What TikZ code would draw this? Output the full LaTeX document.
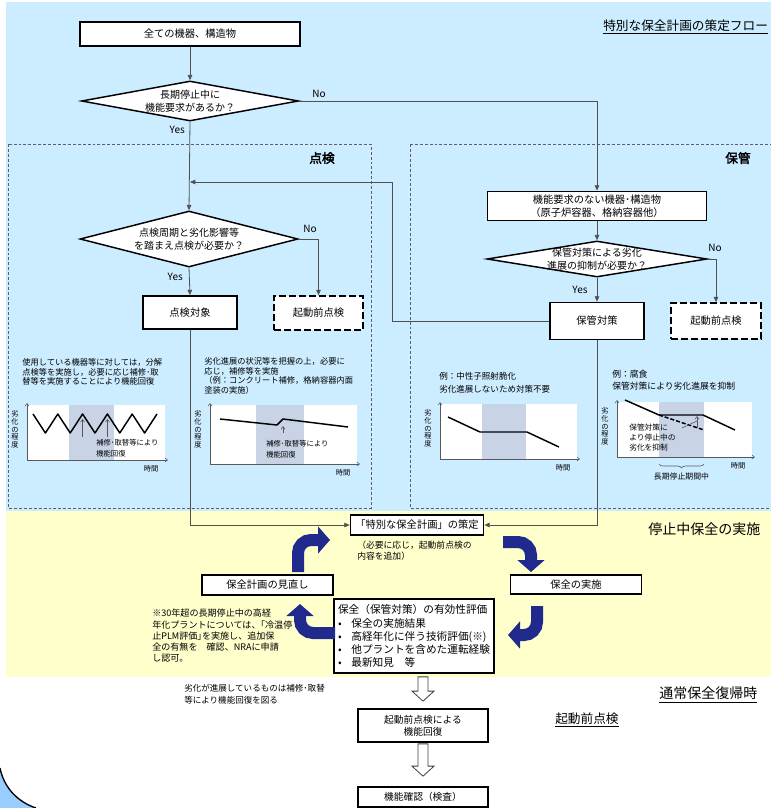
\documentclass[tikz,border=0pt]{standalone}
\usepackage{fontspec}
\setmainfont{Noto Sans CJK JP}[AutoFakeBold=2.5]
\usetikzlibrary{shapes.geometric,arrows.meta,calc,decorations.pathreplacing}

\definecolor{skyback}{RGB}{204,236,255}
\definecolor{creamback}{RGB}{255,255,204}
\definecolor{periodgray}{RGB}{200,212,230}
\definecolor{navyarrow}{RGB}{32,42,140}
\definecolor{cornerblue}{RGB}{153,204,255}
\definecolor{linegray}{RGB}{80,80,80}
\definecolor{framegray}{RGB}{95,95,105}

\newcommand\fsz[2]{\fontsize{#1}{#2}\selectfont}
% hollow block arrow between two named coordinates (top, tip)
\newcommand\hollowdown[2]{%
  \draw[hollow] ($(#1)+(-5,0)$) -- ($(#2)+(-5,-10)$) -- ($(#2)+(-11,-10)$)
    -- (#2) -- ($(#2)+(11,-10)$) -- ($(#2)+(5,-10)$) -- ($(#1)+(5,0)$) -- cycle;}

\begin{document}
\begin{tikzpicture}[
    x=0.75pt, y=-0.75pt,
    every node/.style={inner sep=0pt},
    >={Triangle[length=4pt,width=3.4pt]},
    box/.style={draw, line width=1.3pt, fill=white, align=center, font=\fsz{7.7}{9.6}},
    dbox/.style={box, dash pattern=on 5pt off 2.5pt},
    decision/.style={diamond, draw, line width=1.1pt, fill=white},
    dtext/.style={align=center, font=\fsz{7.5}{9.4}},
    flow/.style={->, draw=linegray, line width=0.6pt},
    yn/.style={font=\fsz{7.5}{9}},
    frame/.style={draw=framegray, line width=0.7pt, dash pattern=on 2.2pt off 1.5pt},
    grouplabel/.style={font=\fsz{9.5}{11}\bfseries},
    header/.style={anchor=west, font=\fsz{10.5}{12}},
    note/.style={anchor=north west, align=left},
    axis/.style={-{Straight Barb[length=2pt,width=3pt]}, draw=gray!70!black, line width=0.4pt},
    curve/.style={line width=1.1pt, line join=round},
    pointer/.style={-{Straight Barb[length=2pt,width=3pt]}, draw=gray!70!black, line width=0.45pt},
    ylab/.style={anchor=north, align=center, font=\fsz{5.4}{5.9}},
    xlab/.style={font=\fsz{5.4}{6}},
    bigarrow/.style={draw=navyarrow, line width=9pt, -{Triangle[length=9pt,width=20pt]}},
    hollow/.style={draw=black!75, line width=0.6pt, fill=white},
]

% Parameters
\def\W{771}
\def\H{808}
\useasboundingbox (0,0) rectangle (\W,\H);

% === Backgrounds ===
\fill[skyback] (6,2) rectangle (\W,511);
\fill[creamback] (6,511) rectangle (\W,677);
\fill[cornerblue] (0,768) .. controls (4,788) and (18,802) .. (36,808) -- (0,808) -- cycle;
\draw[line width=1pt] (0,768) .. controls (4,788) and (18,802) .. (36,808);

% === Group frames ===
\draw[frame] (8,144) rectangle (371,508);
\draw[frame] (410,144) rectangle (780,508);
\node[grouplabel] (tenkenlab) at (322,158) {点検};
\node[grouplabel] (hokanlab) at (738,158) {保管};

% === Headers ===
\node[header, font=\fsz{9.5}{11}] (title) at (603,27) {\underline{特別な保全計画の策定フロー}};
\node[header] (stophdr) at (648,529) {停止中保全の実施};
\node[header] (normhdr) at (659,695) {\underline{通常保全復帰時}};
\node[header, font=\fsz{9.5}{11}] (prehdr) at (555,720) {\underline{起動前点検}};

% === Decision flow ===
\node[box, minimum width=165pt, minimum height=18pt] (all) at (190,34) {全ての機器、構造物};
\node[decision, minimum width=162.75pt, minimum height=30pt] (q1) at (190,101) {};
\node[dtext] (q1t) at (q1) {長期停止中に\\機能要求があるか？};
\node[box, minimum width=164.25pt, minimum height=21.75pt] (nofn) at (597,206) {機能要求のない機器･構造物\\（原子炉容器、格納容器他）};
\node[decision, minimum width=163.5pt, minimum height=42pt] (q2) at (189,239) {};
\node[dtext] (q2t) at (q2) {点検周期と劣化影響等\\を踏まえ点検が必要か？};
\node[box, minimum width=70.5pt, minimum height=24.75pt] (target) at (190,312.5) {点検対象};
\node[dbox, minimum width=66.75pt, minimum height=25.5pt] (prechk1) at (318.5,313) {起動前点検};
\node[decision, minimum width=165pt, minimum height=27pt] (q3) at (597,259) {};
\node[dtext] (q3t) at (q3) {保管対策による劣化\\進展の抑制が必要か？};
\node[box, minimum width=70.5pt, minimum height=27.75pt] (storage) at (597,321) {保管対策};
\node[dbox, minimum width=67.5pt, minimum height=27pt] (prechk2) at (716,321) {起動前点検};

\coordinate (join) at (190,182);
\coordinate (turn) at (392,182);

\draw[flow] (all) -- (q1);
\draw[flow] (q1.east) -| (nofn.north);
\draw[flow] (q1.south) -- (q2.north);
\draw[flow] (q2.east) -| (prechk1.north);
\draw[flow] (q2.south) -- (target.north);
\draw[flow] (nofn) -- (q3);
\draw[flow] (q3.east) -| (prechk2.north);
\draw[flow] (q3.south) -- (storage.north);
\draw[flow] (storage.west) -| (turn) -- (join);

\node[yn] (no1) at (319,94) {No};
\node[yn, anchor=east] (yes1) at (185,130) {Yes};
\node[yn] (no2) at (310,229) {No};
\node[yn, anchor=east] (yes2) at (183,277) {Yes};
\node[yn] (no3) at (715,248) {No};
\node[yn] (yes3) at (580,290) {Yes};

% === Graphs ===
\foreach \gl/\gt/\gr/\gb/\sl/\sr in {27/405/165/460/69/114, 210/405/357/464/256/304,
    440/404/577/459/482/526, 617/402/752/457/659/704} {
    \fill[white] (\gl,\gt) rectangle (\gr,\gb);
    \fill[periodgray] (\sl,\gt) rectangle (\sr,\gb);
    \draw[axis] (\gl,\gb) -- (\gl,\gt-2);
    \draw[axis] (\gl,\gb) -- (\gr+3,\gb);
    \node[ylab] (ylab-\gl) at (\gl-12,\gt+5) {劣\\化\\の\\程\\度};
    \node[xlab] (xlab-\gl) at (\gr-14,\gb+9) {時間};
}

% graph 1: repeated repair
\draw[curve] (33,414) -- (45.4,433) -- (57.8,414) -- (70.2,433) -- (82.6,414) -- (95,433)
    -- (107.4,414) -- (119.8,433) -- (132.2,414) -- (144.6,433) -- (157,414);
\draw[pointer] (82.6,437) -- (82.6,419);
\draw[pointer] (107.4,437) -- (107.4,419);
\node[note, font=\fsz{5.5}{8}] (g1note) at (96,439) {補修･取替等により\\機能回復};
\node[note, font=\fsz{6.2}{7.4}] (g1text) at (22,358) {使用している機器等に対しては，分解\\点検等を実施し，必要に応じ補修･取\\替等を実施することにより機能回復};

% graph 2: repair during stop
\draw[curve] (220,419) -- (277,425) -- (283,419) -- (348,427);
\draw[pointer] (283,433) -- (283,426);
\node[note, font=\fsz{5.5}{8}] (g2note) at (266,440) {補修･取替等により\\機能回復};
\node[note, font=\fsz{6.2}{7.4}] (g2text) at (204,357) {劣化進展の状況等を把握の上，必要に\\応じ，補修等を実施\\（例：コンクリート補修，格納容器内面\\塗装の実施）};

% graph 3: no progress
\draw[curve] (448,417) -- (480,432) -- (527,432) -- (559,447);
\node[note, font=\fsz{6.4}{10}] (g3text) at (439,372) {例：中性子照射脆化\\劣化進展しないため対策不要};

% graph 4: storage measure
\draw[curve] (625,400) -- (659,415) -- (703,415) -- (735,430);
\draw[curve, dash pattern=on 3pt off 1.5pt] (659,415) -- (704,430);
\draw[pointer] (697,428) -- (697,416);
\draw[gray!70!black, line width=0.45pt] (682,428) -- (697,421);
\node[note, font=\fsz{6.6}{9}] (g4text) at (612,370) {例：腐食\\保管対策により劣化進展を抑制};
\node[note, font=\fsz{5.8}{7.5}] (g4note) at (629,424) {保管対策に\\より停止中の\\劣化を抑制};
\draw[gray!70!black, line width=0.45pt, decorate, decoration={brace, mirror, amplitude=3pt}]
    (659,464) -- (704,464);
\node[font=\fsz{5.9}{7}] (period) at (681.5,477) {長期停止期間中};

% === Maintenance cycle during shutdown ===
\node[box, minimum width=99.75pt, minimum height=15pt] (plan) at (417,525) {「特別な保全計画」の策定};
\node[note, font=\fsz{6.6}{8}] (plannote) at (357,541) {（必要に応じ，起動前点検の\\内容を追加）};
\node[box, minimum width=98.25pt, minimum height=14.25pt] (exec) at (576,584.5) {保全の実施};
\node[box, minimum width=98.25pt, minimum height=15pt] (review) at (267.5,585) {保全計画の見直し};
\node[box, align=left, minimum width=120pt, minimum height=55.5pt, font=\fsz{8}{9.8}] (eval) at (414,636)
    {保全（保管対策）の有効性評価\\
     \makebox[10pt][l]{•}保全の実施結果\\
     \makebox[10pt][l]{•}高経年化に伴う技術評価(※)\\
     \makebox[10pt][l]{•}他プラントを含めた運転経験\\
     \makebox[10pt][l]{•}最新知見　等};
\node[note, font=\fsz{6.8}{8.4}] (pltnote) at (152,609) {※30年超の長期停止中の高経\\年化プラントについては、｢冷温停\\止PLM評価｣を実施し、追加保\\全の有無を　確認、NRAに申請\\し認可。};

\draw[flow] (target.south) |- (plan.west);
\draw[flow] (storage.south) |- (plan.east);

\draw[bigarrow] (298,572) -- (298,553) to[out=90,in=180] (311,540) -- (330,540);
\draw[bigarrow] (503,542) -- (518,542) to[out=0,in=90] (531,555) -- (531,572);
\draw[bigarrow] (537,606) -- (537,622) to[out=270,in=0] (524,635) -- (508,635);
\draw[bigarrow] (335,633) -- (313,633) to[out=180,in=270] (300,620) -- (300,604);

% === Return to normal maintenance ===
\node[note, font=\fsz{6.4}{9}] (fixnote) at (184,684) {劣化が進展しているものは補修･取替\\等により機能回復を図る};
\node[box, minimum width=97.5pt, minimum height=24.75pt, font=\fsz{7.3}{8.8}] (recov) at (423,725.5) {起動前点検による\\機能回復};
\node[box, minimum width=97.5pt, minimum height=15pt, font=\fsz{7.3}{8.8}] (confirm) at (423,797) {機能確認（検査）};

\coordinate (h1s) at (recov.north |- eval.south);
\coordinate (h1e) at ($(recov.north)+(0,-7)$);
\coordinate (h2s) at (recov.south);
\coordinate (h2e) at ($(confirm.north)+(0,-10)$);
\hollowdown{$(h1s)+(0,3)$}{h1e}
\hollowdown{$(h2s)+(0,1)$}{h2e}

\end{tikzpicture}
\end{document}
